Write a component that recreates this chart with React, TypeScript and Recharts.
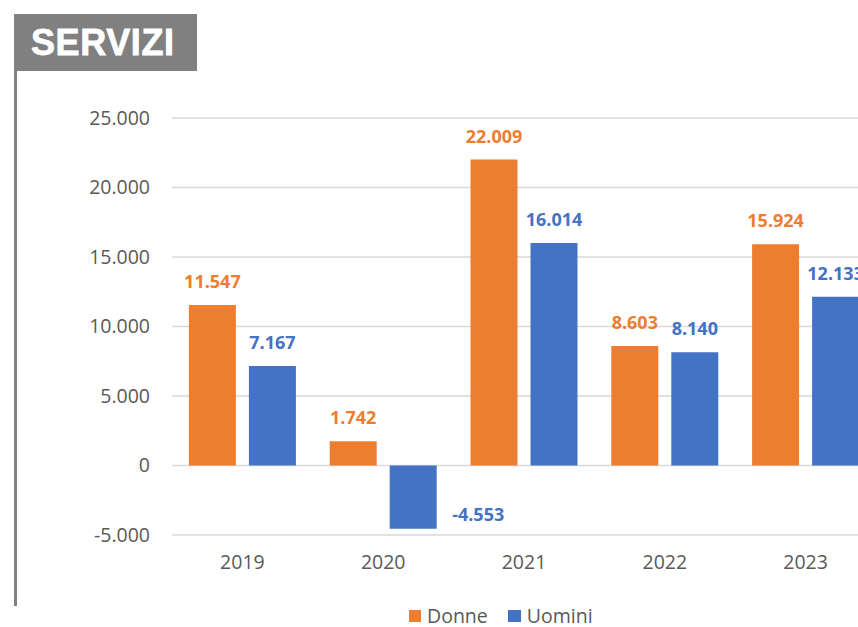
import { BarChart, Bar, XAxis, YAxis, CartesianGrid, LabelList } from 'recharts';

const YEARS = ['2019', '2020', '2021', '2022', '2023'];
const DONNE = [11547, 1742, 22009, 8603, 15924];
const UOMINI = [7167, -4553, 16014, 8140, 12133];
const Y_TICKS = [-5000, 0, 5000, 10000, 15000, 20000, 25000];

const ORANGE = '#ED7D31';
const BLUE = '#4472C4';
const FONT = '"Open Sans", sans-serif';

const fmt = (v: number) => {
  const s = Math.abs(v).toString().replace(/\B(?=(\d{3})+(?!\d))/g, '.');
  return v < 0 ? '-' + s : s;
};

const data = YEARS.map((year, i) => ({ year, donne: DONNE[i], uomini: UOMINI[i] }));

function makeLabel(color: string) {
  return (props: any) => {
    const { x, y, width, height, value } = props;
    const top = Math.min(y, y + height);
    const bottom = Math.max(y, y + height);
    const neg = Number(value) < 0;
    const cx = neg ? x + width / 2 + 65 : x + width / 2;
    const cy = neg ? bottom - 15 : top - 24;
    return (
      <text
        x={cx}
        y={cy}
        textAnchor="middle"
        dominantBaseline="central"
        fill={color}
        fontFamily={FONT}
        fontWeight={700}
        fontSize={18}
      >
        {fmt(Number(value))}
      </text>
    );
  };
}

export default function App() {
  return (
    <div
      style={{
        position: 'absolute',
        left: 0,
        top: 0,
        width: 858,
        height: 627,
        overflow: 'hidden',
        background: '#fff',
        fontFamily: FONT,
      }}
    >
      <div
        style={{
          position: 'absolute',
          left: 14,
          top: 14,
          width: 183,
          height: 57,
          background: '#808080',
          color: '#fff',
          fontFamily: '"Liberation Sans", Arial, sans-serif',
          fontWeight: 900,
          fontSize: 36,
          lineHeight: '57px',
          paddingLeft: 17,
          boxSizing: 'border-box',
          letterSpacing: 0.6,
          WebkitTextStroke: '0.8px #fff',
        }}
      >
        SERVIZI
      </div>
      <div style={{ position: 'absolute', left: 14, top: 71, width: 3, height: 535, background: '#808080' }} />

      <div style={{ position: 'absolute', left: 0, top: 0 }}>
        <BarChart
          width={880}
          height={627}
          data={data}
          margin={{ top: 118, right: 4, bottom: 52, left: 0 }}
          barCategoryGap="12%"
          barGap={13}
        >
          <CartesianGrid vertical={false} stroke="#d9d9d9" strokeWidth={1.5} />
          <XAxis
            dataKey="year"
            axisLine={false}
            tickLine={false}
            tickSize={0}
            tickMargin={20}
            height={40}
            tick={{ fill: '#595959', fontSize: 19.5, fontFamily: FONT }}
          />
          <YAxis
            width={172}
            domain={[-5000, 25000]}
            ticks={Y_TICKS}
            axisLine={false}
            tickLine={false}
            tickSize={0}
            tickMargin={22}
            tickFormatter={fmt}
            tick={{ fill: '#595959', fontSize: 19.5, fontFamily: FONT }}
          />
          <Bar dataKey="donne" fill={ORANGE} isAnimationActive={false}>
            <LabelList dataKey="donne" content={makeLabel(ORANGE)} />
          </Bar>
          <Bar dataKey="uomini" fill={BLUE} isAnimationActive={false}>
            <LabelList dataKey="uomini" content={makeLabel(BLUE)} />
          </Bar>
        </BarChart>
      </div>

      <div
        style={{
          position: 'absolute',
          left: 409,
          top: 605,
          display: 'flex',
          alignItems: 'center',
          fontSize: 19.5,
          color: '#595959',
          lineHeight: '22px',
        }}
      >
        <span style={{ width: 12, height: 12, background: ORANGE, marginRight: 6 }} />
        <span>Donne</span>
        <span style={{ width: 13, height: 12, background: BLUE, marginLeft: 20, marginRight: 6 }} />
        <span>Uomini</span>
      </div>
    </div>
  );
}
